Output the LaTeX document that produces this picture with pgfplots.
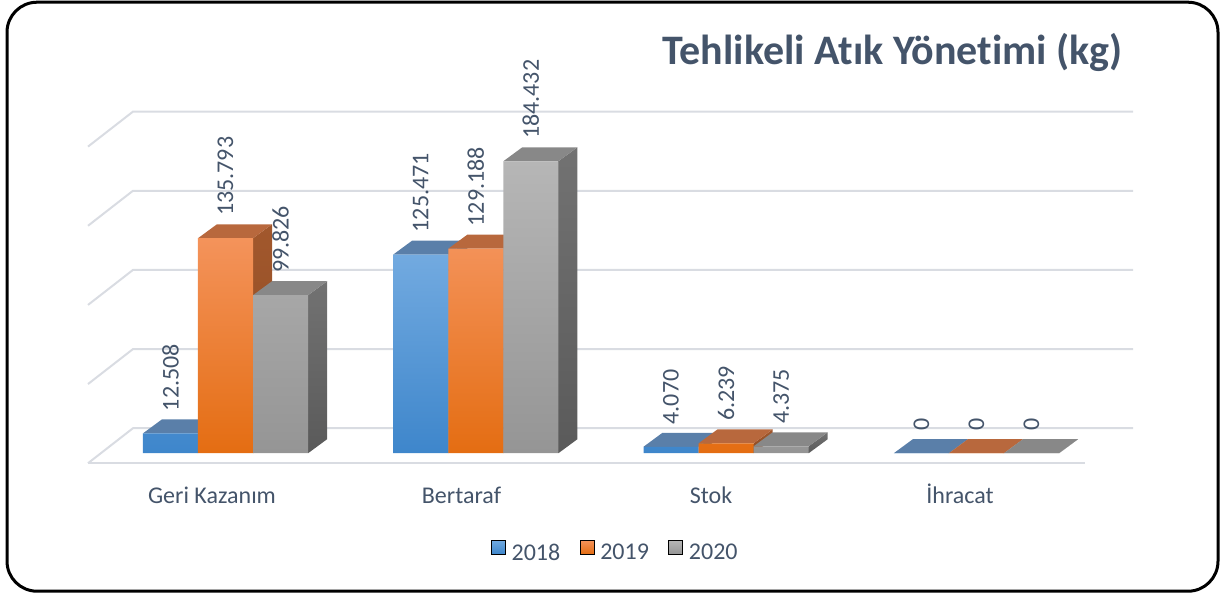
\documentclass[border=0pt]{standalone}
\usepackage{fontspec}
\setmainfont{Carlito}[Ligatures=NoCommon]
\usepackage{pgfplots}
\usepackage{pgfplotstable}
\pgfplotsset{compat=1.18}

\definecolor{txt}{HTML}{44546A}
\definecolor{gridc}{HTML}{D9DCE2}
\definecolor{bF1}{HTML}{72AAE0}
\definecolor{bF2}{HTML}{3E86CB}
\definecolor{bTop}{HTML}{5A7FA9}
\definecolor{bSide}{HTML}{4A6D95}
\definecolor{oF1}{HTML}{F4935B}
\definecolor{oF2}{HTML}{E46D12}
\definecolor{oTop}{HTML}{B8683D}
\definecolor{oS1}{HTML}{A2582D}
\definecolor{oS2}{HTML}{8C4A22}
\definecolor{gF1}{HTML}{B6B6B6}
\definecolor{gF2}{HTML}{959595}
\definecolor{gTop}{HTML}{888888}
\definecolor{gS1}{HTML}{727272}
\definecolor{gS2}{HTML}{5A5A5A}

% data (values in thousands of kg, as printed)
\pgfplotstableread{
g v lab
0 12.508 12.508
1 125.471 125.471
2 4.070 4.070
3 0 0
}\tblA
\pgfplotstableread{
g v lab
0 135.793 135.793
1 129.188 129.188
2 6.239 6.239
3 0 0
}\tblB
\pgfplotstableread{
g v lab
0 99.826 99.826
1 184.432 184.432
2 4.375 4.375
3 0 0
}\tblC

% 3D faces of one bar: #1 centre x, #2 value, #3 top fill, #4 side style
\newcommand\cubefaces[4]{%
  \pgfmathsetmacro\xL{#1-0.11}%
  \pgfmathsetmacro\xR{#1+0.11}%
  \pgfmathsetmacro\xLb{#1-0.11+0.0759}%
  \pgfmathsetmacro\xRb{#1+0.11+0.0759}%
  \pgfmathsetmacro\vB{#2+8.84}%
  \addplot[forget plot, draw=none, #4] coordinates {(\xR,0) (\xRb,8.84) (\xRb,\vB) (\xR,#2)};
  \addplot[forget plot, draw=none, fill=#3] coordinates {(\xL,#2) (\xLb,\vB) (\xRb,\vB) (\xR,#2)};
}

\begin{document}
\begin{tikzpicture}
\begin{axis}[
  width=610.5pt, height=298.5pt, scale only axis,
  xmin=-0.9009, xmax=3.9772, ymin=-90.97, ymax=286.17,
  enlargelimits=false, clip=false,
  axis line style={draw=none},
  ytick=\empty,
  xtick={-0.0539,0.9429,1.9397,2.9345},
  xticklabels={Geri Kazanım,Bertaraf,Stok,İhracat},
  major tick length=0pt,
  xticklabel style={anchor=base, yshift=47pt, font=\fontsize{12}{14}\selectfont, text=txt},
  legend style={at={(0.5045,0.0737)}, anchor=center, draw=none, fill=none,
    legend columns=3, font=\fontsize{12}{14}\selectfont, text=txt,
    /tikz/every odd column/.append style={column sep=1.2pt},
    /tikz/every even column/.append style={column sep=8pt},
    nodes={inner sep=1.7pt}},
  every node near coord/.append style={rotate=90, anchor=west, xshift=10pt,
    font=\fontsize{12}{14}\selectfont, text=txt, inner sep=1pt},
]
% legend entries
\addlegendimage{legend image code/.code={\path[top color=bF1, bottom color=bF2] (0pt,-0.3pt) rectangle (7pt,6.7pt);}}
\addlegendentry{2018}
\addlegendimage{legend image code/.code={\path[top color=oF1, bottom color=oF2] (0pt,-0.3pt) rectangle (7pt,6.7pt);}}
\addlegendentry{2019}
\addlegendimage{legend image code/.code={\path[top color=gF1, bottom color=gF2] (0pt,-0.3pt) rectangle (7pt,6.7pt);}}
\addlegendentry{2020}

% walls / gridlines
\addplot[forget plot, gridc, line width=1pt] coordinates {(-0.5493,-6.32) (-0.3696,15.79) (3.6256,15.79)};
\addplot[forget plot, gridc, line width=1pt] coordinates {(-0.5493,43.68) (-0.3696,65.79) (3.6256,65.79)};
\addplot[forget plot, gridc, line width=1pt] coordinates {(-0.5493,93.68) (-0.3696,115.79) (3.6256,115.79)};
\addplot[forget plot, gridc, line width=1pt] coordinates {(-0.5493,143.68) (-0.3696,165.79) (3.6256,165.79)};
\addplot[forget plot, gridc, line width=1pt] coordinates {(-0.5493,193.68) (-0.3696,215.79) (3.6256,215.79)};
\addplot[forget plot, gridc, line width=1pt] coordinates {(-0.5493,-6.32) (3.434,-6.32)};

% 2018
\pgfplotsforeachungrouped \i in {0,1,2,3}{%
  \pgfplotstablegetelem{\i}{v}\of\tblA
  \let\val\pgfplotsretval
  \pgfmathsetmacro\xc{\i-0.22}%
  \cubefaces{\xc}{\val}{bTop}{fill=bSide}%
}
\addplot[forget plot, ybar, bar width=0.22, bar shift=0pt, draw=none,
  top color=bF1, bottom color=bF2,
  nodes near coords, point meta=explicit symbolic]
  table[x expr=\thisrow{g}-0.22, y=v, meta=lab]{\tblA};

% 2019
\pgfplotsforeachungrouped \i in {0,1,2,3}{%
  \pgfplotstablegetelem{\i}{v}\of\tblB
  \let\val\pgfplotsretval
  \pgfmathsetmacro\xc{\i}%
  \cubefaces{\xc}{\val}{oTop}{top color=oS1, bottom color=oS2}%
}
\addplot[forget plot, ybar, bar width=0.22, bar shift=0pt, draw=none,
  top color=oF1, bottom color=oF2,
  nodes near coords, point meta=explicit symbolic]
  table[x expr=\thisrow{g}, y=v, meta=lab]{\tblB};

% 2020
\pgfplotsforeachungrouped \i in {0,1,2,3}{%
  \pgfplotstablegetelem{\i}{v}\of\tblC
  \let\val\pgfplotsretval
  \pgfmathsetmacro\xc{\i+0.22}%
  \cubefaces{\xc}{\val}{gTop}{top color=gS1, bottom color=gS2}%
}
\addplot[forget plot, ybar, bar width=0.22, bar shift=0pt, draw=none,
  top color=gF1, bottom color=gF2,
  nodes near coords, point meta=explicit symbolic]
  table[x expr=\thisrow{g}+0.22, y=v, meta=lab]{\tblC};

% title and frame
\node[anchor=base, text=txt, font=\bfseries\fontsize{21}{25}\selectfont]
  at (axis cs:2.6648,245.5) {Tehlikeli Atık Yönetimi (kg)};
\draw[line width=1.5pt, rounded corners=15pt]
  (axis cs:-0.8729,284.9) rectangle (axis cs:3.9652,-87.18);
\end{axis}
\end{tikzpicture}
\end{document}
